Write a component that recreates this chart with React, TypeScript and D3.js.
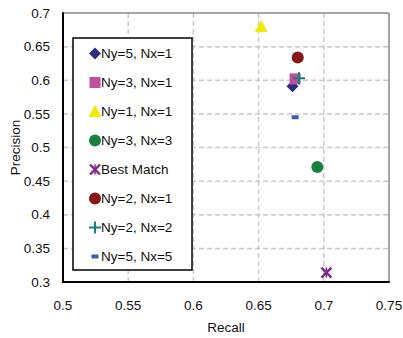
import React from "react";
import * as d3 from "d3";

// Configurations and their precision/recall results
const seriesNames = [
  "Ny=5, Nx=1",
  "Ny=3, Nx=1",
  "Ny=1, Nx=1",
  "Ny=3, Nx=3",
  "Best Match",
  "Ny=2, Nx=1",
  "Ny=2, Nx=2",
  "Ny=5, Nx=5",
];
const recallValues = [0.676, 0.678, 0.652, 0.695, 0.702, 0.680, 0.681, 0.678];
const precisionValues = [0.591, 0.602, 0.680, 0.471, 0.314, 0.634, 0.603, 0.545];
const markerKinds = ["diamond", "square", "triangle", "circle", "star", "circle", "plus", "dash"];
const markerColors = [
  "#2E2E80",
  "#C0509E",
  "#F2EA00",
  "#178040",
  "#7A2A85",
  "#8A1717",
  "#168080",
  "#3F5CAE",
];

const xTicks = [0.5, 0.55, 0.6, 0.65, 0.7, 0.75];
const yTicks = [0.3, 0.35, 0.4, 0.45, 0.5, 0.55, 0.6, 0.65, 0.7];

const W = 403;
const H = 338;
const M = { left: 63, top: 13, right: 389, bottom: 282 };
const FONT = "'Liberation Sans', Arial, sans-serif";

function Marker({ kind, color, x, y }: { kind: string; color: string; x: number; y: number }) {
  switch (kind) {
    case "diamond":
      return <path d={`M${x},${y - 6}L${x + 6},${y}L${x},${y + 6}L${x - 6},${y}Z`} fill={color} />;
    case "square":
      return <rect x={x - 5.5} y={y - 5.5} width={11} height={11} fill={color} />;
    case "triangle":
      return <path d={`M${x},${y - 6.5}L${x + 6.5},${y + 5.5}L${x - 6.5},${y + 5.5}Z`} fill={color} />;
    case "circle":
      return <circle cx={x} cy={y} r={6} fill={color} />;
    case "plus":
      return (
        <g stroke={color} strokeWidth={2}>
          <line x1={x - 6} y1={y} x2={x + 6} y2={y} />
          <line x1={x} y1={y - 6} x2={x} y2={y + 6} />
        </g>
      );
    case "dash":
      return <rect x={x - 3.5} y={y - 2} width={7} height={4} fill={color} />;
    case "star":
      return (
        <g stroke={color} strokeWidth={2.4}>
          <line x1={x - 5} y1={y - 5} x2={x + 5} y2={y + 5} />
          <line x1={x + 5} y1={y - 5} x2={x - 5} y2={y + 5} />
          <line x1={x} y1={y - 5} x2={x} y2={y + 5} strokeWidth={1.5} />
        </g>
      );
    default:
      return null;
  }
}

export default function App() {
  const x = d3.scaleLinear().domain([0.5, 0.75]).range([M.left, M.right]);
  const y = d3.scaleLinear().domain([0.3, 0.7]).range([M.bottom, M.top]);
  const fmt = (v: number) => d3.format("")(+v.toFixed(2));

  const legendX = 73;
  const legendY = 38;
  const legendW = 119;
  const legendH = 232;
  const rowStep = 29;

  return (
    <svg
      width={W}
      height={H}
      style={{ position: "absolute", left: 0, top: 0, fontFamily: FONT }}
    >
      <rect x={0} y={0} width={W} height={H} fill="#fff" />
      {/* grid */}
      <g stroke="#C8C8C8" strokeWidth={1.5} strokeDasharray="5,3">
        {xTicks.slice(1, -1).map((t) => (
          <line key={"gx" + t} x1={x(t)} x2={x(t)} y1={M.top} y2={M.bottom} />
        ))}
        {yTicks.slice(1, -1).map((t) => (
          <line key={"gy" + t} x1={M.left} x2={M.right} y1={y(t)} y2={y(t)} />
        ))}
      </g>
      {/* frame */}
      <line x1={M.left} x2={M.right} y1={M.top} y2={M.top} stroke="#888" strokeWidth={1.5} />
      <line x1={M.right} x2={M.right} y1={M.top} y2={M.bottom} stroke="#888" strokeWidth={1.5} />
      <line x1={M.left} x2={M.left} y1={M.top - 0.75} y2={M.bottom + 1} stroke="#000" strokeWidth={2} />
      <line x1={M.left - 1} x2={M.right + 0.75} y1={M.bottom} y2={M.bottom} stroke="#000" strokeWidth={2} />

      {/* tick labels */}
      <g fontSize={13.5} fill="#111">
        {yTicks.map((t) => (
          <text key={"ty" + t} x={50} y={y(t)} dy="0.35em" textAnchor="end">
            {fmt(t)}
          </text>
        ))}
        {xTicks.map((t) => (
          <text key={"tx" + t} x={x(t)} y={305} dy="0.35em" textAnchor="middle">
            {fmt(t)}
          </text>
        ))}
      </g>
      <text x={(M.left + M.right) / 2} y={332} textAnchor="middle" fontSize={13.5} fill="#111">
        Recall
      </text>
      <text
        transform={`translate(15,${(M.top + M.bottom) / 2}) rotate(-90)`}
        dy="0.35em"
        textAnchor="middle"
        fontSize={13.5}
        fill="#111"
      >
        Precision
      </text>

      {/* legend */}
      <rect x={legendX} y={legendY} width={legendW} height={legendH} fill="#fff" stroke="#000" strokeWidth={1.5} />
      {seriesNames.map((name, i) => {
        const ry = 53.5 + i * rowStep;
        return (
          <g key={"lg" + i}>
            <Marker kind={markerKinds[i]} color={markerColors[i]} x={95} y={ry} />
            <text x={101} y={ry} dy="0.35em" fontSize={13.5} fill="#111">
              {name}
            </text>
          </g>
        );
      })}

      {/* points */}
      {seriesNames.map((name, i) => (
        <Marker
          key={"pt" + i}
          kind={markerKinds[i]}
          color={markerColors[i]}
          x={x(recallValues[i])}
          y={y(precisionValues[i])}
        />
      ))}
    </svg>
  );
}
